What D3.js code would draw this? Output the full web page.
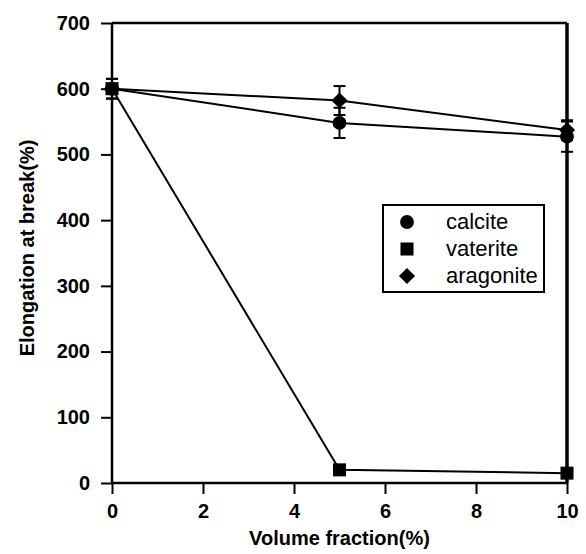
<!DOCTYPE html>
<html><head><meta charset="utf-8">
<script src="https://cdn.jsdelivr.net/npm/d3@7"></script>
<style>body{margin:0;background:#fff}svg{display:block}text{font-family:"Liberation Sans",Arial,sans-serif;fill:#000}</style>
</head><body><svg id="c" width="586" height="554"></svg>
<script>
const xValues = [0, 5, 10];
const calcite = [600, 548, 527];
const calciteErr = [15, 23, 23];
const vaterite = [600, 20, 15];
const aragonite = [600, 582, 537];
const aragoniteErr = [15, 22, 15];
const xTicks = [0, 2, 4, 6, 8, 10];
const yTicks = [0, 100, 200, 300, 400, 500, 600, 700];
const seriesNames = ["calcite", "vaterite", "aragonite"];

const svg = d3.select("#c");
const x = d3.scaleLinear().domain([0, 10]).range([112, 567]);
const y = d3.scaleLinear().domain([0, 700]).range([483, 23]);

// axes
const gx = svg.append("g").attr("transform", "translate(0,483)")
  .call(d3.axisBottom(x).tickValues(xTicks).tickSize(11).tickPadding(10).tickFormat(d3.format("d")));
const gy = svg.append("g").attr("transform", "translate(112,0)")
  .call(d3.axisLeft(y).tickValues(yTicks).tickSize(11).tickPadding(11).tickFormat(d3.format("d")));
[gx, gy].forEach(g => {
  g.select(".domain").attr("stroke", "#000").attr("stroke-width", 2.5);
  g.selectAll(".tick line").attr("stroke", "#000").attr("stroke-width", 2);
  g.selectAll(".tick text").attr("font-size", 20).attr("font-weight", "bold")
    .attr("font-family", "Liberation Sans, Arial, sans-serif").attr("fill", "#000");
});
gx.select(".domain").attr("d", `M${x(0)},0H${x(10)}`);
gy.select(".domain").attr("d", `M0,${y(0)}V${y(700)}`);
// top and right frame
svg.append("line").attr("x1", x(0)).attr("x2", x(10)).attr("y1", y(700)).attr("y2", y(700)).attr("stroke", "#000").attr("stroke-width", 2.5);
svg.append("line").attr("x1", x(10)).attr("x2", x(10)).attr("y1", y(700)).attr("y2", y(0)).attr("stroke", "#000").attr("stroke-width", 3.5);

// labels
svg.append("text").attr("x", x(5)).attr("y", 545).attr("text-anchor", "middle").attr("font-size", 20).attr("font-weight", "bold").text("Volume fraction(%)");
svg.append("text").attr("transform", `translate(34,${(y(0)+y(700))/2 - 5}) rotate(-90)`).attr("text-anchor", "middle").attr("font-size", 20).attr("font-weight", "bold").text("Elongation at break(%)");

const line = d3.line().x((d, i) => x(xValues[i])).y(d => y(d));
[calcite, vaterite, aragonite].forEach(s => {
  svg.append("path").attr("d", line(s)).attr("fill", "none").attr("stroke", "#000").attr("stroke-width", 2);
});

// error bars
function errBars(vals, errs) {
  vals.forEach((v, i) => {
    const cx = x(xValues[i]);
    svg.append("line").attr("x1", cx).attr("x2", cx).attr("y1", y(v - errs[i])).attr("y2", y(v + errs[i])).attr("stroke", "#000").attr("stroke-width", 2);
    [v - errs[i], v + errs[i]].forEach(e => svg.append("line").attr("x1", cx - 6).attr("x2", cx + 6).attr("y1", y(e)).attr("y2", y(e)).attr("stroke", "#000").attr("stroke-width", 2));
  });
}
errBars(calcite, calciteErr);
errBars(aragonite, aragoniteErr);

const shapes = [d3.symbolCircle, d3.symbolSquare, d3.symbolSquare];
const sizes = [150, 170, 130];
const rot = [0, 0, 45];
[calcite, vaterite, aragonite].forEach((s, k) => {
  s.forEach((v, i) => {
    svg.append("path").attr("d", d3.symbol().type(shapes[k]).size(sizes[k])())
      .attr("transform", `translate(${x(xValues[i])},${y(v)}) rotate(${rot[k]})`).attr("fill", "#000");
  });
});

// legend
svg.append("rect").attr("x", 383).attr("y", 205).attr("width", 161).attr("height", 87).attr("fill", "#fff").attr("stroke", "#000").attr("stroke-width", 2);
const ly = [222, 249, 276];
seriesNames.forEach((n, k) => {
  svg.append("path").attr("d", d3.symbol().type(shapes[k]).size(sizes[k])()).attr("transform", `translate(407,${ly[k]}) rotate(${rot[k]})`).attr("fill", "#000");
  svg.append("text").attr("x", 446).attr("y", ly[k] + 7).attr("font-size", 22).text(n);
});
</script></body></html>
